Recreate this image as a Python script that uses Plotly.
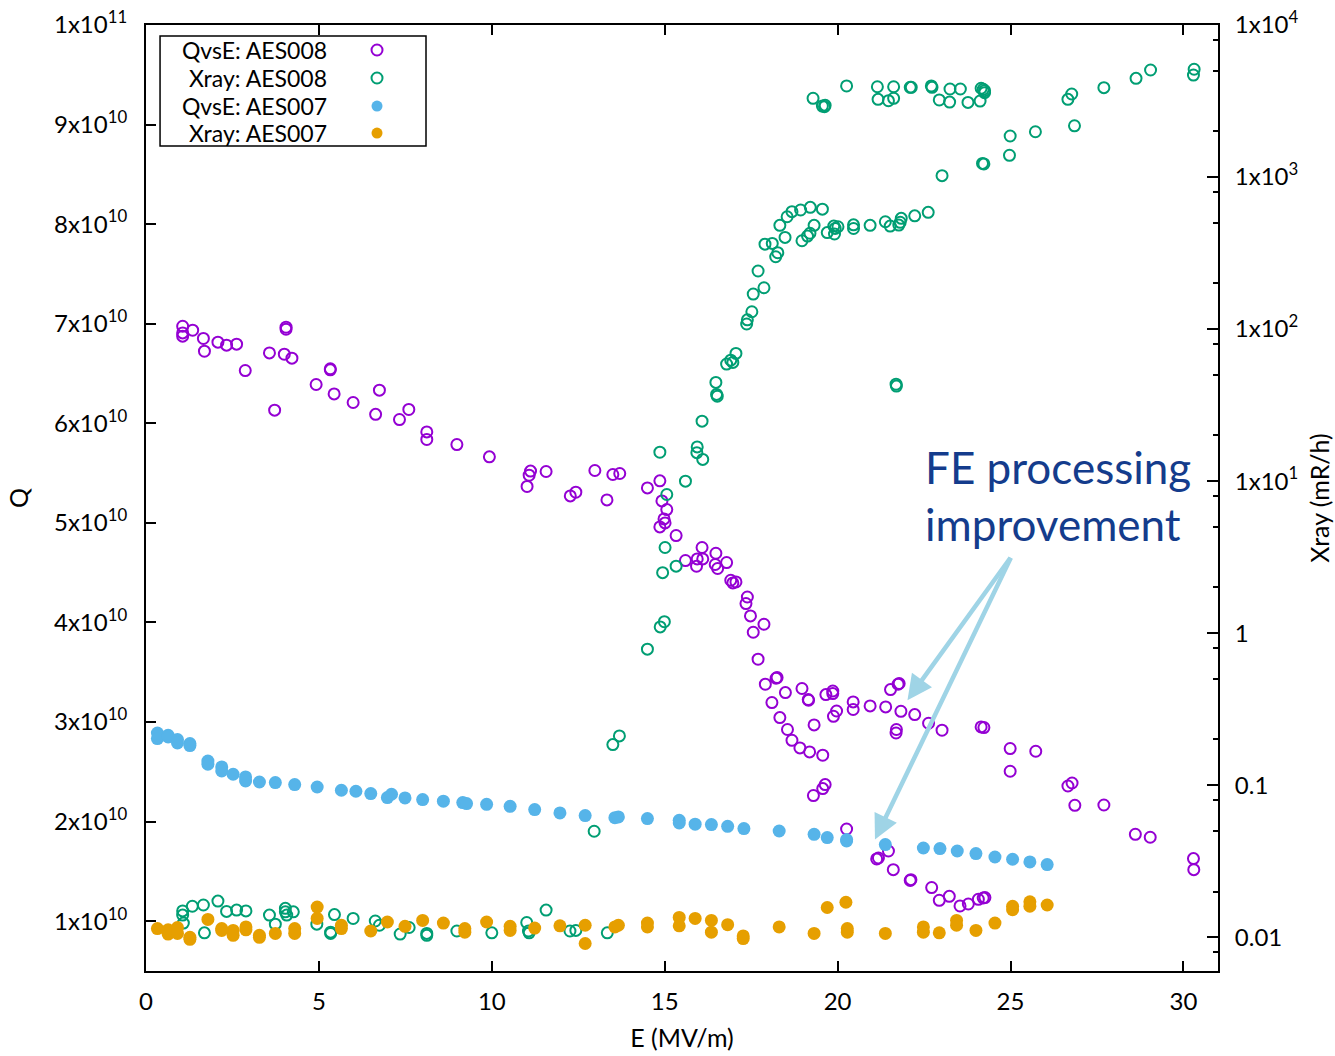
import plotly.graph_objects as go

# ---- AES008: quality factor vs accelerating gradient ----
e_q008 = [1.06, 1.06, 1.06, 1.35, 1.66, 1.69, 2.08, 2.33, 2.62, 2.87,
          3.57, 3.72, 4.05, 4.05, 4.00, 4.22, 5.33, 5.33, 4.92, 5.44,
          5.99, 6.75, 6.64, 7.33, 7.60, 8.12, 8.12, 8.99, 9.93, 11.12,
          11.08, 11.02, 11.57, 12.27, 12.43, 12.98, 13.33, 13.50, 13.70, 14.50,
          14.86, 14.92, 15.06, 14.98, 15.01, 14.86, 15.33, 16.08, 15.60, 15.94,
          16.10, 15.92, 16.48, 16.46, 16.53, 16.79, 16.91, 16.97, 17.06, 17.39,
          17.35, 17.48, 17.87, 17.56, 17.70, 18.22, 18.25, 17.91, 18.49, 18.10,
          18.97, 19.15, 19.16, 18.33, 19.32, 18.55, 18.68, 18.91, 19.19, 19.57,
          19.66, 19.86, 19.86, 19.97, 19.88, 20.45, 20.45, 20.94, 21.39, 21.53,
          21.75, 21.78, 21.83, 22.23, 22.63, 23.02, 21.70, 21.69, 24.15, 24.23,
          24.99, 25.73, 24.99, 26.66, 26.78, 26.86, 27.70, 28.61, 29.04, 30.29,
          30.30, 19.30, 19.57, 19.64, 20.26, 21.13, 21.18, 21.47, 21.61, 22.10,
          22.12, 22.72, 22.94, 23.23, 23.54, 23.78, 24.07, 24.21, 24.26]
q_008 = [6.975e10, 6.908e10, 6.875e10, 6.935e10, 6.852e10, 6.724e10, 6.815e10, 6.785e10, 6.795e10, 6.530e10,
         6.707e10, 6.132e10, 6.965e10, 6.945e10, 6.694e10, 6.654e10, 6.537e10, 6.547e10, 6.390e10, 6.295e10,
         6.209e10, 6.333e10, 6.090e10, 6.038e10, 6.139e10, 5.914e10, 5.838e10, 5.787e10, 5.663e10, 5.520e10,
         5.479e10, 5.366e10, 5.516e10, 5.271e10, 5.308e10, 5.526e10, 5.231e10, 5.486e10, 5.496e10, 5.351e10,
         5.422e10, 5.221e10, 5.134e10, 5.040e10, 5.000e10, 4.960e10, 4.873e10, 4.753e10, 4.622e10, 4.638e10,
         4.638e10, 4.565e10, 4.695e10, 4.582e10, 4.542e10, 4.602e10, 4.424e10, 4.397e10, 4.407e10, 4.256e10,
         4.190e10, 4.066e10, 3.982e10, 3.902e10, 3.631e10, 3.440e10, 3.447e10, 3.380e10, 3.296e10, 3.196e10,
         3.337e10, 3.226e10, 3.219e10, 3.045e10, 2.971e10, 2.925e10, 2.817e10, 2.740e10, 2.700e10, 2.667e10,
         3.276e10, 3.286e10, 3.312e10, 3.111e10, 3.058e10, 3.202e10, 3.126e10, 3.162e10, 3.152e10, 3.326e10,
         3.380e10, 3.387e10, 3.108e10, 3.075e10, 2.988e10, 2.918e10, 2.925e10, 2.890e10, 2.951e10, 2.945e10,
         2.734e10, 2.707e10, 2.506e10, 2.358e10, 2.388e10, 2.164e10, 2.167e10, 1.873e10, 1.843e10, 1.629e10,
         1.518e10, 2.262e10, 2.332e10, 2.372e10, 1.926e10, 1.625e10, 1.635e10, 1.705e10, 1.518e10, 1.410e10,
         1.417e10, 1.338e10, 1.210e10, 1.250e10, 1.153e10, 1.173e10, 1.220e10, 1.233e10, 1.237e10]

# ---- AES008: x-ray dose rate (mR/h) vs gradient ----
e_x008 = [1.06, 1.06, 1.08, 1.34, 1.66, 1.69, 2.08, 2.33, 2.62, 2.89,
          3.57, 3.74, 4.03, 4.03, 4.07, 4.26, 4.94, 5.34, 5.34, 5.45,
          5.99, 6.63, 6.75, 7.35, 7.61, 8.12, 8.12, 8.99, 10.00, 11.01,
          11.06, 11.08, 11.57, 12.26, 12.43, 12.96, 13.34, 13.50, 13.69, 14.50,
          14.87, 14.99, 14.94, 15.33, 15.01, 15.60, 14.86, 15.06, 15.94, 15.93,
          16.10, 16.08, 16.48, 16.50, 16.52, 16.79, 16.91, 16.97, 17.06, 17.37,
          17.39, 17.52, 17.56, 17.87, 17.70, 17.90, 18.11, 18.21, 18.27, 18.48,
          18.33, 18.54, 18.68, 18.93, 19.21, 19.56, 18.97, 19.13, 19.20, 19.32,
          19.70, 19.89, 19.91, 19.93, 20.01, 20.46, 20.46, 20.94, 21.38, 21.52,
          21.77, 21.81, 21.84, 22.23, 22.62, 23.02, 24.19, 24.23, 24.97, 24.99,
          25.72, 26.85, 19.29, 19.56, 19.62, 19.64, 20.26, 21.15, 21.62, 21.17,
          21.47, 21.62, 22.10, 22.13, 22.71, 22.73, 22.94, 23.24, 23.25, 23.55,
          23.77, 24.12, 24.15, 24.21, 24.25, 24.25, 26.66, 26.77, 27.70, 28.63,
          29.05, 30.31, 30.29, 21.69, 21.70]
x_008 = [0.0149, 0.0140, 0.0124, 0.0160, 0.0163, 0.0107, 0.0173, 0.0148, 0.0151, 0.0149,
         0.0140, 0.0122, 0.0155, 0.0147, 0.0140, 0.0147, 0.0122, 0.0108, 0.0106, 0.0141,
         0.0133, 0.0128, 0.0120, 0.0105, 0.0116, 0.0106, 0.0103, 0.0110, 0.0107, 0.0125,
         0.0110, 0.0107, 0.0151, 0.0110, 0.0111, 0.0498, 0.0107, 0.185, 0.211, 0.785,
         1.10, 1.19, 2.50, 2.76, 3.66, 10.0, 15.5, 8.17, 16.8, 15.4,
         13.9, 24.8, 44.6, 37.2, 36.2, 58.9, 62.5, 60.4, 69.2, 108,
         115, 130, 170, 187, 241, 362, 366, 299, 318, 401,
         481, 548, 592, 607, 632, 615, 381, 409, 427, 481,
         431, 476, 422, 459, 471, 485, 459, 481, 508, 476,
         483, 504, 535, 556, 586, 1021, 1230, 1219, 1390, 1862,
         1986, 2173, 3296, 2931, 2904, 2965, 3972, 3926, 3926, 3243,
         3177, 3296, 3890, 3890, 3972, 3890, 3214, 3112, 3793, 3793,
         3097, 3162, 3837, 3776, 3698, 3589, 3243, 3516, 3873, 4457,
         5058, 5117, 4688, 43.4, 42.2]

# ---- AES007: quality factor vs gradient ----
e_q007 = [0.33, 0.33, 0.64, 0.64, 0.91, 0.91, 1.27, 1.27, 1.79, 1.79,
          2.19, 2.19, 2.52, 2.88, 2.88, 3.28, 3.74, 4.30, 4.95, 5.65,
          6.07, 6.50, 6.98, 7.10, 7.49, 8.00, 8.60, 9.16, 9.27, 9.85,
          10.53, 11.24, 11.97, 12.70, 13.56, 13.66, 14.50, 15.42, 15.42, 15.88,
          16.35, 16.82, 17.29, 18.31, 19.32, 19.70, 20.26, 20.26, 21.38, 22.48,
          22.96, 23.46, 24.00, 24.55, 25.06, 25.56, 26.06]
q_007 = [2.890e10, 2.834e10, 2.867e10, 2.850e10, 2.824e10, 2.790e10, 2.784e10, 2.764e10, 2.609e10, 2.576e10,
         2.549e10, 2.509e10, 2.476e10, 2.449e10, 2.408e10, 2.398e10, 2.392e10, 2.372e10, 2.348e10, 2.315e10,
         2.305e10, 2.282e10, 2.242e10, 2.275e10, 2.238e10, 2.222e10, 2.205e10, 2.191e10, 2.181e10, 2.174e10,
         2.154e10, 2.121e10, 2.087e10, 2.061e10, 2.040e10, 2.047e10, 2.031e10, 2.014e10, 1.987e10, 1.974e10,
         1.970e10, 1.953e10, 1.930e10, 1.906e10, 1.873e10, 1.840e10, 1.820e10, 1.806e10, 1.770e10, 1.735e10,
         1.729e10, 1.705e10, 1.679e10, 1.645e10, 1.622e10, 1.595e10, 1.569e10]

# ---- AES007: x-ray dose rate (mR/h) vs gradient ----
e_x007 = [0.33, 0.64, 0.64, 0.91, 0.91, 1.27, 1.27, 1.79, 2.19, 2.19,
          2.52, 2.52, 2.89, 2.89, 3.28, 3.28, 3.74, 4.30, 4.30, 4.95,
          4.95, 5.65, 5.65, 6.50, 6.98, 7.49, 8.00, 8.60, 9.22, 9.22,
          9.85, 10.53, 10.53, 11.24, 11.97, 12.70, 12.70, 13.56, 13.66, 14.50,
          14.50, 15.42, 15.42, 15.88, 16.35, 16.35, 16.82, 17.27, 17.27, 18.31,
          19.32, 19.70, 20.24, 20.28, 20.28, 21.38, 22.48, 22.48, 22.94, 23.44,
          23.44, 24.00, 24.55, 25.06, 25.06, 25.56, 25.56, 26.06]
x_007 = [0.0114, 0.0112, 0.0105, 0.0116, 0.0106, 0.0100, 0.0097, 0.0131, 0.0114, 0.0111,
         0.0111, 0.0103, 0.0117, 0.0112, 0.0103, 0.0100, 0.0106, 0.0114, 0.0106, 0.0158,
         0.0133, 0.0120, 0.0114, 0.0110, 0.0126, 0.0118, 0.0129, 0.0124, 0.0114, 0.0108,
         0.0126, 0.0118, 0.0111, 0.0115, 0.0119, 0.0120, 0.0091, 0.0117, 0.0120, 0.0124,
         0.0117, 0.0135, 0.0119, 0.0133, 0.0129, 0.0108, 0.0121, 0.0102, 0.0098, 0.0117,
         0.0106, 0.0157, 0.0170, 0.0114, 0.0108, 0.0106, 0.0117, 0.0108, 0.0107, 0.0129,
         0.0120, 0.0111, 0.0124, 0.0160, 0.0152, 0.0171, 0.0160, 0.0163]

# ---- axis ticks ----
e_ticks = [0, 5, 10, 15, 20, 25, 30]
q_ticks = [1e10, 2e10, 3e10, 4e10, 5e10, 6e10, 7e10, 8e10, 9e10, 1e11]
q_labels = ["1x10<sup>10</sup>", "2x10<sup>10</sup>", "3x10<sup>10</sup>", "4x10<sup>10</sup>",
            "5x10<sup>10</sup>", "6x10<sup>10</sup>", "7x10<sup>10</sup>", "8x10<sup>10</sup>",
            "9x10<sup>10</sup>", "1x10<sup>11</sup>"]
xr_ticks = [0.01, 0.1, 1, 10, 100, 1000, 10000]
xr_labels = ["0.01", "0.1", "1", "1x10<sup>1</sup>", "1x10<sup>2</sup>", "1x10<sup>3</sup>", "1x10<sup>4</sup>"]
xr_minor = [0.008, 0.02, 0.05, 0.08, 0.2, 0.5, 0.8, 2, 5, 8, 20, 50, 80,
            200, 500, 800, 2000, 5000, 8000]

PURPLE = "#9400d3"
GREEN = "#009e73"
BLUE = "#56b4e9"
ORANGE = "#e69f00"
FONT = "Lato"
TICK_SIZE = 24
TITLE_SIZE = 25
KEY_SIZE = 23

series = [
    ("QvsE: AES008", e_q008, q_008, "y", PURPLE, True),
    (" Xray: AES008", e_x008, x_008, "y2", GREEN, True),
    ("QvsE: AES007", e_q007, q_007, "y", BLUE, False),
    (" Xray: AES007", e_x007, x_007, "y2", ORANGE, False),
]

fig = go.Figure()
for name, ex, vals, yax, col, hollow in series:
    if hollow:
        marker = dict(symbol="circle-open", size=11, color=col, line=dict(width=2, color=col))
    else:
        marker = dict(symbol="circle", size=13, color=col, line=dict(width=0))
    fig.add_trace(go.Scatter(x=ex, y=vals, mode="markers", name=name, yaxis=yax,
                             marker=marker, hoverinfo="skip", showlegend=False))

axis_common = dict(showline=True, linewidth=2, linecolor="black", ticks="inside",
                   tickwidth=2, tickcolor="black", showgrid=False, zeroline=False,
                   automargin=False,
                   tickfont=dict(family=FONT, size=TICK_SIZE, color="black"))

fig.update_layout(
    width=1335, height=1056,
    margin=dict(l=146, r=117, t=25, b=85, autoexpand=False),
    paper_bgcolor="white", plot_bgcolor="white",
    showlegend=False,
    font=dict(family=FONT, size=TICK_SIZE, color="black"),
    xaxis=dict(range=[0, 31], tickmode="array", tickvals=e_ticks, ticklen=10,
               mirror="ticks", ticklabelstandoff=8,
               title=dict(text="E (MV/m)", standoff=16,
                          font=dict(family=FONT, size=TITLE_SIZE, color="black")),
               **axis_common),
    yaxis=dict(range=[0.5e10, 1e11], tickmode="array", tickvals=q_ticks, ticktext=q_labels,
               ticklen=10, ticklabelstandoff=12,
               title=dict(text="Q", standoff=18,
                          font=dict(family=FONT, size=TITLE_SIZE, color="black")),
               **axis_common),
    yaxis2=dict(type="log", range=[-2.2218, 4], overlaying="y", side="right",
                tickmode="array", tickvals=xr_ticks, ticktext=xr_labels, ticklen=11,
                ticklabelstandoff=10,
                minor=dict(tickmode="array", tickvals=xr_minor, ticks="inside", ticklen=5,
                           tickwidth=2, tickcolor="black"),
                title=dict(text="Xray (mR/h)", standoff=14,
                           font=dict(family=FONT, size=TITLE_SIZE, color="black")),
                **axis_common),
)

# key box with text right-aligned and symbols on the right
fig.add_shape(type="rect", xref="paper", yref="paper", x0=0.0131, x1=0.2612, y0=0.8721, y1=0.9884,
              line=dict(color="black", width=1.5), fillcolor="white", layer="above")
rows_y = [0.9736, 0.9440, 0.9143, 0.8858]
for (name, _, _, _, col, hollow), ry in zip(series, rows_y):
    fig.add_annotation(xref="paper", yref="paper", x=0.1707, y=ry, xanchor="right", yanchor="middle",
                       text=name, showarrow=False,
                       font=dict(family=FONT, size=KEY_SIZE, color="black"))
    fig.add_shape(type="circle", xref="paper", yref="paper", xsizemode="pixel", ysizemode="pixel",
                  xanchor=0.2155, yanchor=ry, x0=-5.5, x1=5.5, y0=-5.5, y1=5.5,
                  line=dict(color=col, width=2 if hollow else 0),
                  fillcolor="rgba(0,0,0,0)" if hollow else col, layer="above")

# callout
fig.add_annotation(xref="paper", yref="paper", x=0.8507, y=0.503, xanchor="center", yanchor="middle",
                   text="FE processing<br>improvement", showarrow=False, align="left",
                   font=dict(family=FONT, size=44, color="#143c8c"))
ARROW = "#9fd4e6"
for tip_e, tip_q in [(22.02, 3.22e10), (21.08, 1.82e10)]:
    fig.add_annotation(x=tip_e, y=tip_q, xref="x", yref="y", ax=25.03, ay=4.665e10,
                       axref="x", ayref="y", text="", showarrow=True, arrowhead=2,
                       arrowsize=1.1, arrowwidth=4.5, arrowcolor=ARROW, standoff=0)

fig.write_html("out.html")
